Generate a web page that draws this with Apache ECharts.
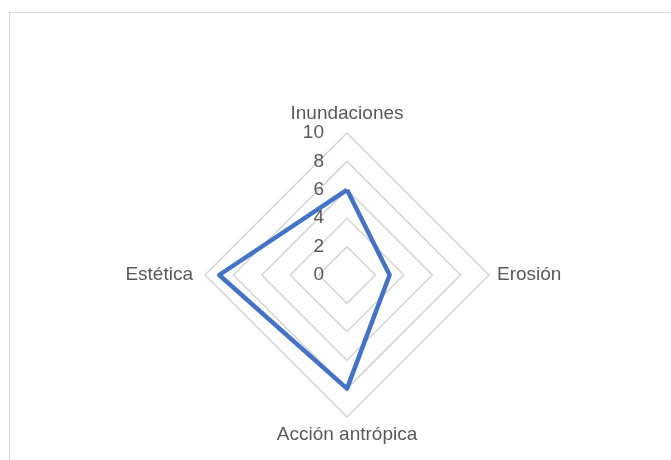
<!DOCTYPE html>
<html lang="es">
<head>
<meta charset="UTF-8">
<title>Radar</title>
<script src="https://cdn.jsdelivr.net/npm/echarts@6/dist/echarts.min.js"></script>
<style>
  html, body { margin: 0; padding: 0; background: #fff; }
  #frame { position: absolute; left: 9px; top: 12px; width: 680px; height: 470px; border: 1px solid #d9d9d9; }
  #main { position: absolute; left: 0; top: 0; width: 671px; height: 460px; }
</style>
</head>
<body>
<div id="frame"></div>
<div id="main"></div>
<script type="text/javascript">
    // indicadores en sentido antihorario empezando arriba (orden de ECharts)
    var categories = ['Inundaciones', 'Estética', 'Acción antrópica', 'Erosión'];
    var values = [6, 9, 8, 3];
    var maxValue = 10;

    var myChart = echarts.init(document.getElementById('main'));

    var indicators = categories.map(function (name, i) {
        var ind = { name: name, min: 0, max: maxValue };
        if (i === 0) {
            ind.axisLabel = { show: true };
            ind.nameGap = 10;
        }
        if (name === 'Estética') {
            ind.nameGap = 12;
        }
        return ind;
    });

    myChart.setOption({
        animation: false,
        radar: {
            center: [347, 275],
            radius: 142,
            startAngle: 90,
            splitNumber: 5,
            shape: 'polygon',
            indicator: indicators,
            axisName: {
                color: '#595959',
                fontFamily: 'Liberation Sans',
                fontSize: 19
            },
            nameGap: 8,
            axisLine: { show: false },
            axisTick: { show: false },
            axisLabel: {
                show: false,
                color: '#595959',
                fontFamily: 'Liberation Sans',
                fontSize: 19,
                margin: 23
            },
            splitLine: { lineStyle: { color: '#d4d4d4', width: 1.5 } },
            splitArea: { show: false }
        },
        series: [{
            type: 'radar',
            symbol: 'none',
            lineStyle: { color: '#4472c4', width: 4.5 },
            data: [{ value: values, name: 'Serie1' }]
        }]
    });
</script>
</body>
</html>
